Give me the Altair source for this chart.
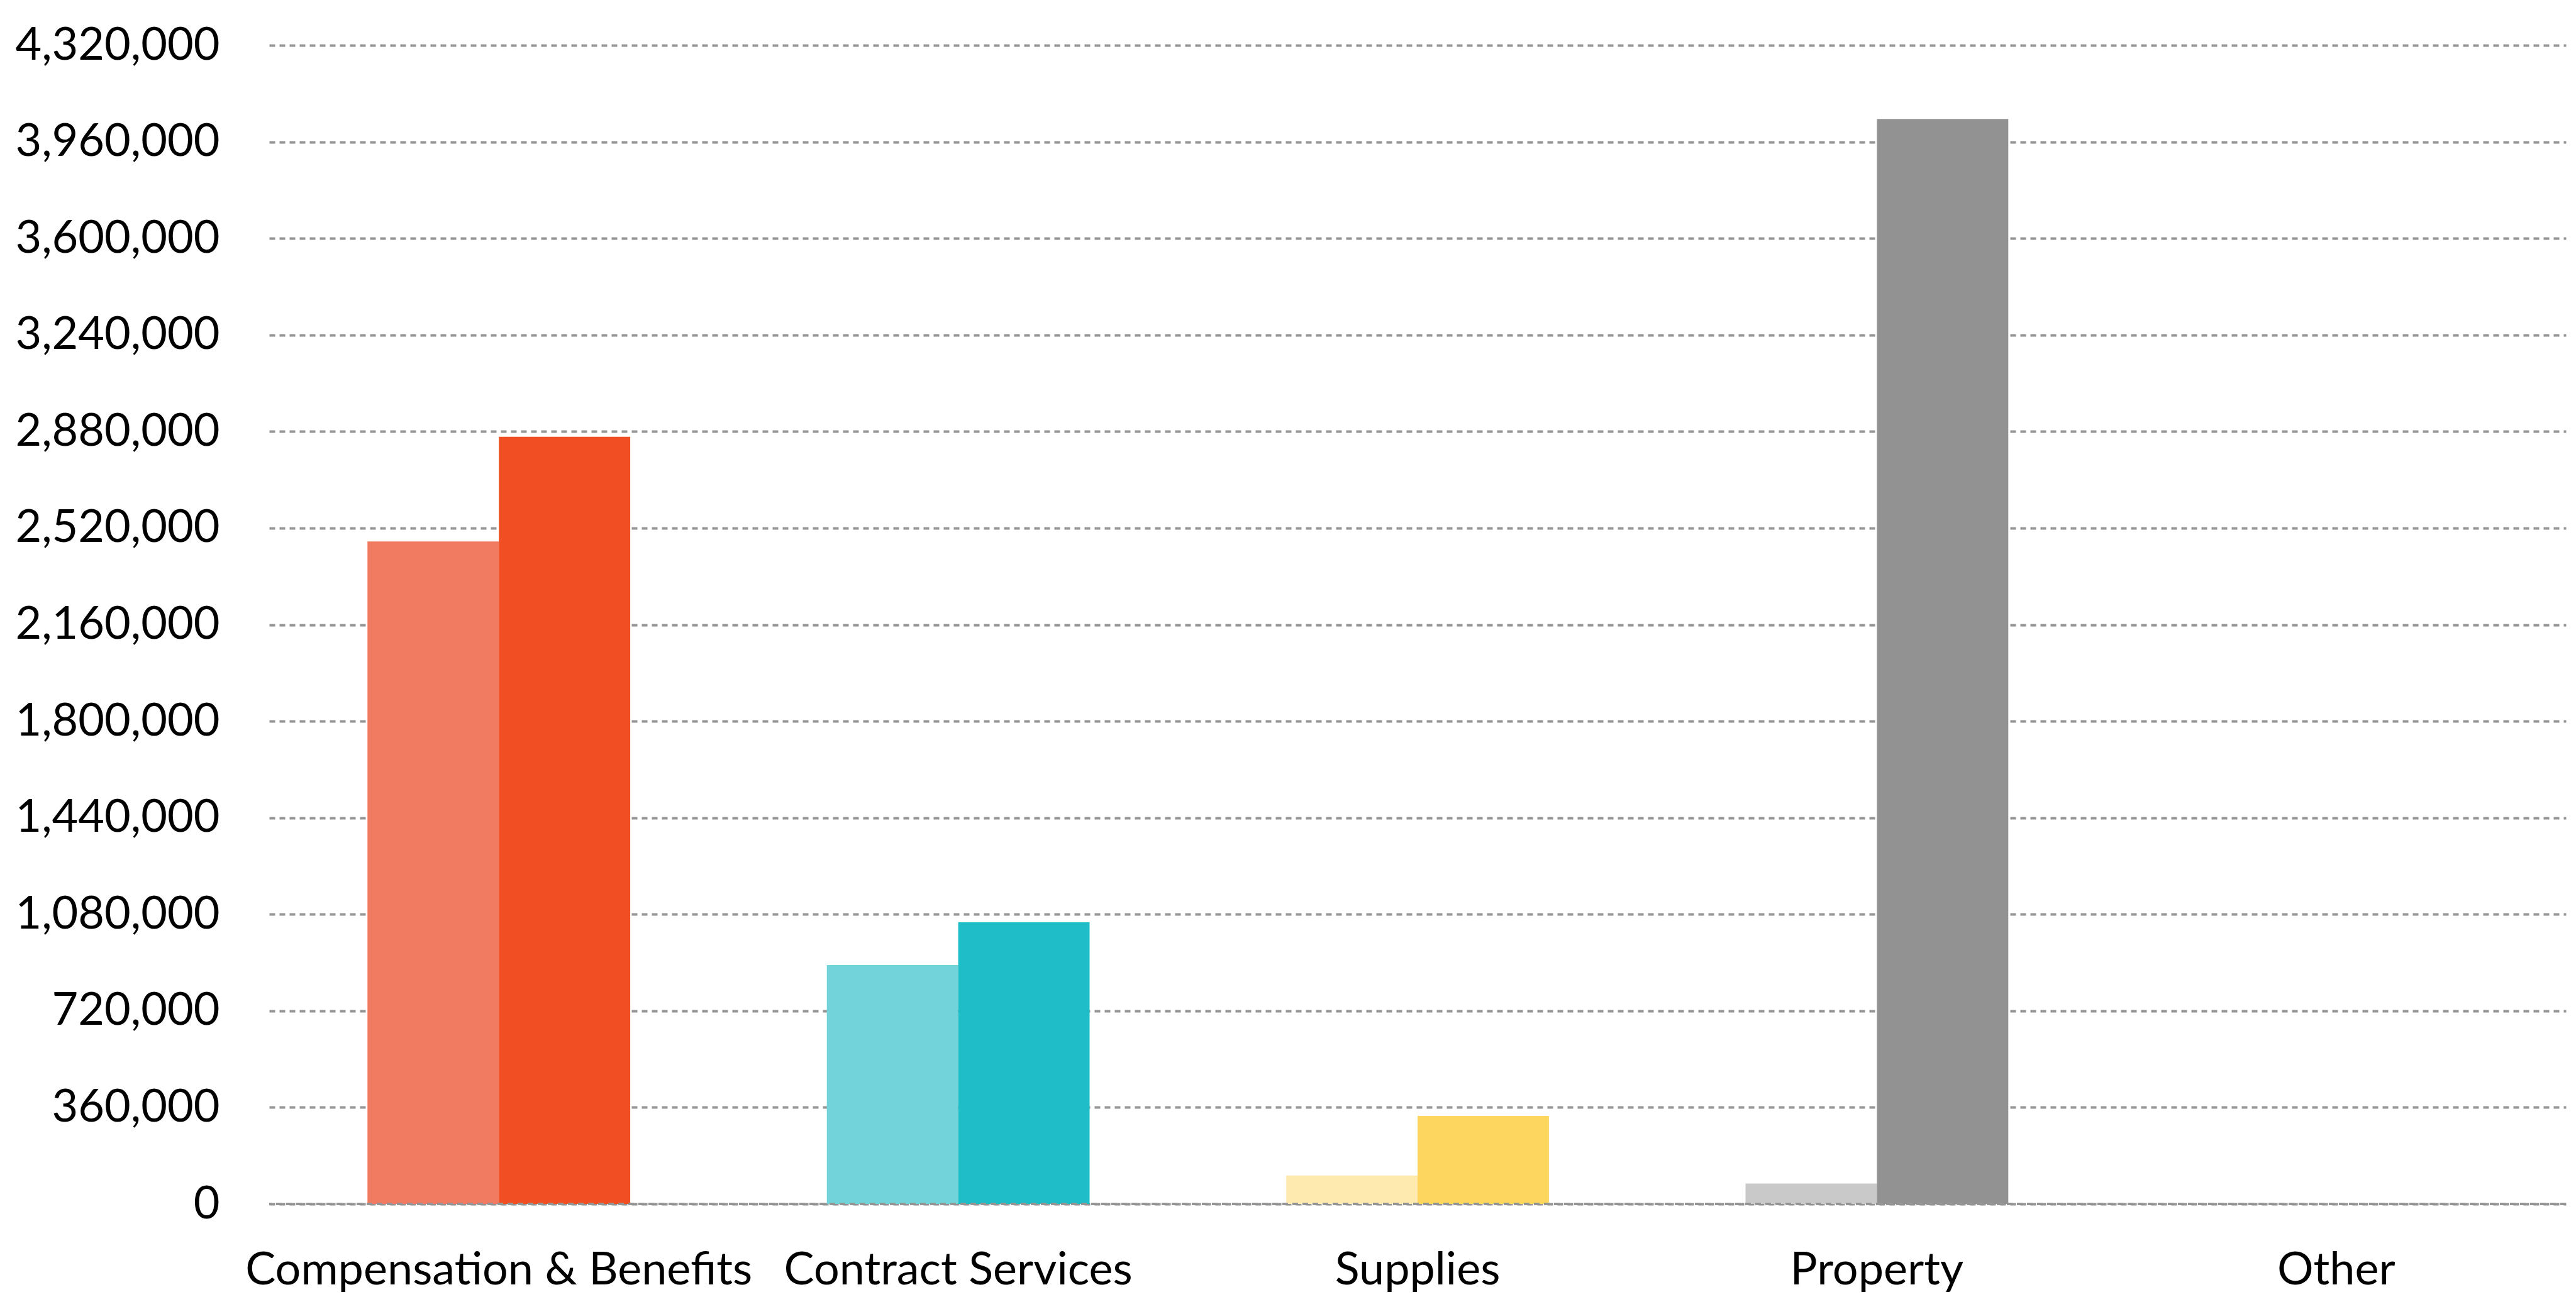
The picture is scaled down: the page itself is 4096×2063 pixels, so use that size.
import altair as alt
import pandas as pd

categories = ["Compensation & Benefits", "Contract Services", "Supplies", "Property", "Other"]
series = ["Prior", "Current"]
prior_values = [2470000, 891000, 106000, 76000, 0]
current_values = [2860000, 1050000, 328000, 4045000, 0]
prior_colors = ["#F17B61", "#73D3DA", "#FEE9AF", "#C9C9C9", "#C9C9C9"]
current_colors = ["#F14E23", "#1FBDC8", "#FDD660", "#929292", "#929292"]
y_ticks = [i * 360000 for i in range(13)]

rows = []
for c, pv, cv, pc, cc in zip(categories, prior_values, current_values, prior_colors, current_colors):
    rows.append({"category": c, "series": series[0], "value": pv, "color": pc})
    rows.append({"category": c, "series": series[1], "value": cv, "color": cc})
df = pd.DataFrame(rows)

FONT = "Lato"
FS = 72

x_enc = alt.X(
    "category:N",
    sort=categories,
    scale=alt.Scale(paddingInner=0.428, paddingOuter=0.214),
    axis=alt.Axis(
        title=None, domain=False, ticks=False, grid=False, labelAngle=0,
        labelFont=FONT, labelFontSize=FS, labelColor="#000000", labelPadding=70,
        labelLimit=2000,
    ),
)

bars = alt.Chart(df).mark_bar(binSpacing=0).encode(
    x=x_enc,
    xOffset=alt.XOffset("series:N", sort=series, scale=alt.Scale(paddingInner=0, paddingOuter=0)),
    y=alt.Y(
        "value:Q",
        scale=alt.Scale(domain=[0, 4320000], nice=False, zero=True),
        axis=alt.Axis(
            title=None, domain=False, ticks=False, values=y_ticks, format=",.0f",
            labelFont=FONT, labelFontSize=FS, labelColor="#000000", labelPadding=79,
            labelLimit=2000,
            grid=True, gridColor="#959595", gridWidth=4, gridDash=[9, 7],
        ),
    ),
    color=alt.Color("color:N", scale=None, legend=None),
)

zero_line = alt.Chart(pd.DataFrame({"v": [0]})).mark_rule(
    color="#959595", strokeWidth=4, strokeDash=[9, 7]
).encode(y=alt.Y("v:Q"))

chart = alt.layer(bars, zero_line).properties(
    width=3652,
    height=1843,
    autosize=alt.AutoSizeParams(type="none"),
    padding={"left": 428, "top": 72, "right": 16, "bottom": 148},
    background="#FFFFFF",
).configure_view(stroke=None)

chart.save("out.html", embed_options={"renderer": "svg", "actions": False})
